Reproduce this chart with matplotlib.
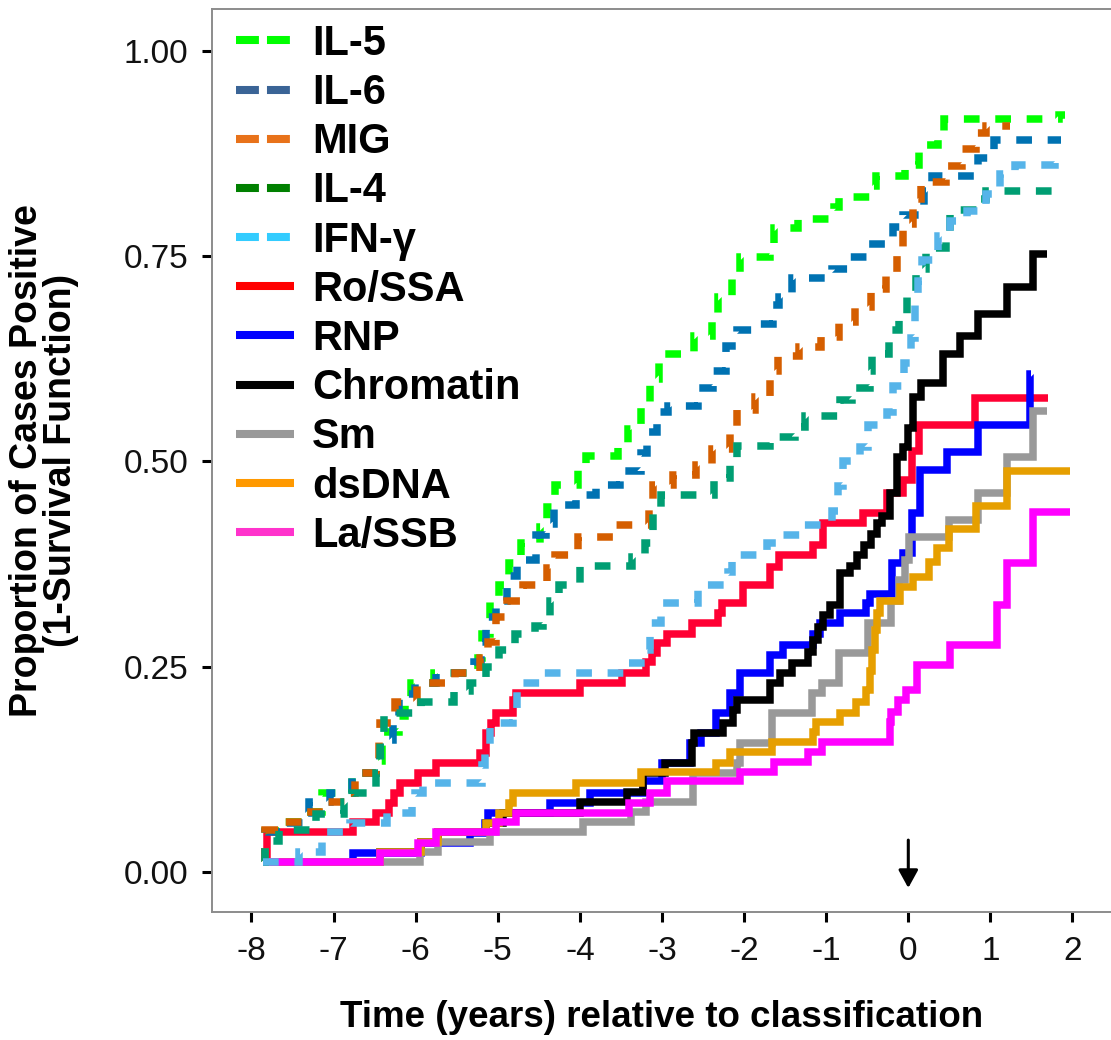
import matplotlib
matplotlib.use("Agg")
import matplotlib.pyplot as plt
from matplotlib.lines import Line2D

plt.rcParams['font.family'] = ['Liberation Sans', 'DejaVu Sans']
plt.rcParams['lines.scale_dashes'] = False

# ---------------- data (step functions: time of change, cumulative proportion) ----------------
il5_t = [-7.86, -7.83, -7.61, -7.37, -7.14, -6.77, -6.48, -6.41, -6.20, -6.13, -6.06, -5.78, -5.24, -5.19,
         -5.09, -4.99, -4.86, -4.72, -4.49, -4.40, -4.30, -4.02, -3.92, -3.53, -3.41, -3.26, -3.14, -3.04,
         -2.96, -2.61, -2.39, -2.32, -2.15, -2.05, -1.69, -1.63, -1.34, -0.90, -0.85, -0.46, -0.39, -0.04,
         0.13, 0.36, 0.43, 1.84, 1.91]
il5_y = [0.012, 0.050, 0.061, 0.073, 0.096, 0.120, 0.135, 0.170, 0.190, 0.210, 0.230, 0.242, 0.260, 0.290,
         0.330, 0.350, 0.376, 0.400, 0.420, 0.445, 0.471, 0.490, 0.507, 0.520, 0.540, 0.565, 0.600, 0.620,
         0.631, 0.653, 0.675, 0.700, 0.724, 0.749, 0.765, 0.784, 0.795, 0.810, 0.822, 0.835, 0.848, 0.861,
         0.885, 0.900, 0.917, 0.922, 0.922]

il6_t = [-7.86, -7.84, -7.63, -7.37, -7.30, -7.04, -6.78, -6.48, -6.43, -6.28, -6.20, -6.01, -5.75, -5.29,
         -5.21, -5.14, -5.02, -4.89, -4.76, -4.54, -4.41, -4.31, -4.05, -3.80, -3.51, -3.26, -3.18, -3.06,
         -2.93, -2.56, -2.38, -2.22, -2.09, -1.82, -1.65, -1.57, -1.42, -0.93, -0.73, -0.49, -0.19, -0.07,
         0.19, 0.29, 0.85, 1.05, 1.86]
il6_y = [0.012, 0.049, 0.060, 0.072, 0.085, 0.096, 0.120, 0.135, 0.160, 0.180, 0.217, 0.230, 0.242, 0.255,
         0.280, 0.310, 0.330, 0.360, 0.380, 0.410, 0.424, 0.447, 0.459, 0.471, 0.488, 0.510, 0.536, 0.560,
         0.568, 0.590, 0.610, 0.640, 0.660, 0.667, 0.690, 0.700, 0.723, 0.735, 0.749, 0.765, 0.785, 0.800,
         0.830, 0.848, 0.870, 0.891, 0.891]

mig_t = [-7.86, -7.84, -7.61, -7.34, -7.07, -6.80, -6.74, -6.48, -6.45, -6.43, -6.25, -5.98, -5.52, -5.22,
         -5.12, -5.02, -4.89, -4.69, -4.40, -4.30, -4.02, -3.57, -3.16, -3.11, -2.86, -2.59, -2.39, -2.17,
         -2.09, -1.87, -1.69, -1.59, -1.33, -1.06, -0.85, -0.65, -0.45, -0.27, -0.14, -0.07, 0.06, 0.16,
         0.46, 0.65, 0.82, 0.95, 1.24]
mig_y = [0.012, 0.051, 0.061, 0.073, 0.085, 0.096, 0.120, 0.135, 0.160, 0.181, 0.207, 0.230, 0.242, 0.260,
         0.280, 0.310, 0.330, 0.349, 0.370, 0.386, 0.408, 0.422, 0.445, 0.471, 0.483, 0.495, 0.515, 0.540,
         0.563, 0.578, 0.610, 0.628, 0.639, 0.651, 0.670, 0.688, 0.710, 0.730, 0.760, 0.789, 0.820, 0.840,
         0.860, 0.880, 0.900, 0.909, 0.909]

il4_t = [-7.86, -7.83, -7.66, -7.22, -6.87, -6.78, -6.48, -6.43, -6.38, -5.93, -5.53, -5.34, -5.14, -4.99,
         -4.79, -4.55, -4.45, -4.37, -4.25, -4.00, -3.36, -3.21, -3.11, -3.01, -2.37, -2.17, -2.09, -1.69,
         -1.38, -1.26, -0.83, -0.68, -0.47, -0.44, -0.24, -0.11, -0.01, 0.09, 0.21, 0.46, 0.51, 0.85, 0.95,
         1.84]
il4_y = [0.012, 0.037, 0.051, 0.070, 0.085, 0.096, 0.120, 0.160, 0.193, 0.207, 0.220, 0.230, 0.250, 0.270,
         0.290, 0.300, 0.310, 0.330, 0.350, 0.373, 0.384, 0.400, 0.440, 0.459, 0.480, 0.500, 0.519, 0.530,
         0.542, 0.555, 0.575, 0.590, 0.610, 0.631, 0.660, 0.680, 0.706, 0.734, 0.760, 0.780, 0.806, 0.820,
         0.830, 0.830]

ifng_t = [-7.86, -7.42, -7.14, -7.10, -6.80, -6.35, -6.05, -6.01, -5.91, -5.19, -5.16, -5.09, -4.82, -4.76,
          -4.49, -3.46, -3.18, -3.14, -3.01, -2.56, -2.19, -2.15, -1.72, -1.57, -1.28, -0.93, -0.86, -0.80,
          -0.59, -0.49, -0.26, -0.19, -0.05, 0.03, 0.08, 0.12, 0.17, 0.36, 0.51, 0.71, 0.95, 1.12, 1.30,
          1.79, 1.91]
ifng_y = [0.012, 0.024, 0.036, 0.048, 0.060, 0.072, 0.084, 0.096, 0.108, 0.130, 0.150, 0.181, 0.200, 0.230,
          0.242, 0.254, 0.270, 0.303, 0.327, 0.350, 0.365, 0.386, 0.400, 0.410, 0.422, 0.440, 0.470, 0.500,
          0.517, 0.544, 0.560, 0.592, 0.620, 0.650, 0.690, 0.720, 0.745, 0.775, 0.793, 0.805, 0.826, 0.850,
          0.861, 0.866, 0.866]

ro_t = [-7.86, -7.81, -6.76, -6.48, -6.33, -6.27, -6.19, -5.97, -5.75, -5.22, -5.14, -5.08, -5.02, -4.81,
        -4.78, -4.00, -3.49, -3.19, -3.12, -3.06, -2.94, -2.63, -2.32, -2.27, -2.01, -1.68, -1.58, -1.16,
        -1.04, -0.55, -0.26, -0.06, 0.05, 0.13, 0.81, 1.70]
ro_y = [0.012, 0.049, 0.061, 0.072, 0.084, 0.096, 0.108, 0.120, 0.133, 0.145, 0.169, 0.181, 0.193, 0.209,
        0.218, 0.230, 0.242, 0.256, 0.266, 0.279, 0.290, 0.303, 0.315, 0.327, 0.349, 0.371, 0.386, 0.398,
        0.425, 0.437, 0.461, 0.477, 0.513, 0.544, 0.577, 0.577]

rnp_t = [-7.86, -6.76, -5.93, -5.34, -5.16, -5.12, -4.37, -3.88, -3.23, -3.00, -2.66, -2.53, -2.34, -2.17,
         -2.05, -1.68, -1.53, -1.16, -1.08, -0.83, -0.51, -0.47, -0.20, -0.06, 0.04, 0.14, 0.47, 0.85, 1.48,
         1.50]
rnp_y = [0.012, 0.023, 0.035, 0.047, 0.060, 0.072, 0.084, 0.096, 0.110, 0.133, 0.157, 0.169, 0.193, 0.218,
         0.242, 0.264, 0.276, 0.290, 0.303, 0.315, 0.327, 0.339, 0.376, 0.388, 0.437, 0.490, 0.511, 0.544,
         0.607, 0.607]

chrom_t = [-7.86, -6.43, -5.93, -5.73, -5.14, -4.94, -4.00, -3.43, -3.23, -2.96, -2.64, -2.61, -2.26, -2.14,
           -2.09, -1.68, -1.56, -1.42, -1.22, -1.16, -1.10, -1.04, -0.95, -0.83, -0.71, -0.62, -0.54, -0.46,
           -0.38, -0.32, -0.22, -0.14, -0.07, 0.00, 0.06, 0.15, 0.42, 0.63, 0.85, 1.20, 1.52, 1.69]
chrom_y = [0.012, 0.024, 0.036, 0.048, 0.060, 0.072, 0.085, 0.097, 0.120, 0.133, 0.157, 0.169, 0.181, 0.197,
           0.209, 0.230, 0.242, 0.254, 0.268, 0.282, 0.298, 0.313, 0.325, 0.364, 0.373, 0.386, 0.398, 0.412,
           0.425, 0.434, 0.462, 0.505, 0.517, 0.541, 0.578, 0.596, 0.631, 0.653, 0.680, 0.712, 0.753, 0.753]

sm_t = [-7.86, -5.95, -5.73, -5.10, -3.96, -3.38, -3.19, -2.62, -2.09, -2.05, -1.66, -1.17, -1.05, -0.85,
        -0.49, -0.21, -0.11, -0.04, 0.01, 0.49, 0.85, 1.20, 1.52, 1.69]
sm_y = [0.012, 0.024, 0.036, 0.049, 0.061, 0.073, 0.085, 0.120, 0.133, 0.157, 0.193, 0.218, 0.230, 0.266,
        0.303, 0.330, 0.355, 0.380, 0.408, 0.428, 0.461, 0.505, 0.561, 0.561]

dsdna_t = [-7.86, -6.43, -5.93, -5.73, -5.14, -4.99, -4.86, -4.82, -4.05, -3.25, -2.34, -2.17, -1.66, -1.16,
           -1.12, -0.83, -0.64, -0.51, -0.47, -0.44, -0.41, -0.38, -0.35, -0.10, 0.06, 0.25, 0.35, 0.49, 0.83,
           1.20, 1.97]
dsdna_y = [0.012, 0.024, 0.036, 0.048, 0.060, 0.072, 0.084, 0.096, 0.108, 0.122, 0.133, 0.146, 0.158, 0.170,
           0.182, 0.193, 0.207, 0.221, 0.245, 0.270, 0.295, 0.315, 0.330, 0.347, 0.359, 0.377, 0.395, 0.418,
           0.446, 0.488, 0.488]

la_t = [-7.86, -6.43, -5.97, -5.75, -5.02, -4.78, -3.40, -3.15, -2.94, -2.05, -1.64, -1.22, -1.05, -0.22,
        -0.21, -0.13, -0.03, 0.11, 0.51, 1.08, 1.20, 1.52, 1.97]
la_y = [0.012, 0.023, 0.035, 0.049, 0.061, 0.072, 0.084, 0.096, 0.110, 0.122, 0.134, 0.146, 0.158, 0.183,
        0.195, 0.209, 0.221, 0.252, 0.276, 0.325, 0.376, 0.438, 0.438]

labels = ["IL-5", "IL-6", "MIG", "IL-4", "IFN-γ", "Ro/SSA", "RNP", "Chromatin", "Sm", "dsDNA", "La/SSB"]
x_ticks = [-8, -7, -6, -5, -4, -3, -2, -1, 0, 1, 2]
y_ticks = [0.00, 0.25, 0.50, 0.75, 1.00]
y_ticklabels = ["0.00", "0.25", "0.50", "0.75", "1.00"]

# ---------------- styling ----------------
line_colors = {"IL-5": "#00FF00", "IL-6": "#0072B2", "MIG": "#D55E00", "IL-4": "#009E73",
               "IFN-γ": "#56B4E9", "Ro/SSA": "#FF0033", "RNP": "#0000FF", "Chromatin": "#000000",
               "Sm": "#999999", "dsDNA": "#E69F00", "La/SSB": "#FF00FF"}
legend_colors = {"IL-5": "#00FF00", "IL-6": "#3A6496", "MIG": "#E8721A", "IL-4": "#008000",
                 "IFN-γ": "#33CCFF", "Ro/SSA": "#FF0000", "RNP": "#0000FF", "Chromatin": "#000000",
                 "Sm": "#999999", "dsDNA": "#FF9900", "La/SSB": "#FF33CC"}
dashed = {"IL-5", "IL-6", "MIG", "IL-4", "IFN-γ"}

series = {"IL-5": (il5_t, il5_y), "IL-6": (il6_t, il6_y), "MIG": (mig_t, mig_y), "IL-4": (il4_t, il4_y),
          "IFN-γ": (ifng_t, ifng_y), "Ro/SSA": (ro_t, ro_y), "RNP": (rnp_t, rnp_y),
          "Chromatin": (chrom_t, chrom_y), "Sm": (sm_t, sm_y), "dsDNA": (dsdna_t, dsdna_y),
          "La/SSB": (la_t, la_y)}

W, H = 1111, 1040
fig = plt.figure(figsize=(W / 100, H / 100), dpi=100)
ax_left, ax_right, ax_top, ax_bottom = 212, 1111, 9.3, 912
ax = fig.add_axes([ax_left / W, 1 - ax_bottom / H, (ax_right - ax_left) / W, (ax_bottom - ax_top) / H])

LW = 5.4
draw_order = ["Ro/SSA", "RNP", "Chromatin", "Sm", "dsDNA", "La/SSB", "IL-5", "IL-6", "MIG", "IL-4", "IFN-γ"]
for name in draw_order:
    t, y = series[name]
    if name in dashed:
        ax.step(t, y, where="post", color=line_colors[name], lw=LW, dashes=(11.3, 11.3),
                dash_capstyle="butt", dash_joinstyle="miter")
    else:
        ax.step(t, y, where="post", color=line_colors[name], lw=LW,
                solid_capstyle="butt", solid_joinstyle="miter")

# arrow marking classification time
ax.annotate("", xy=(0, -0.0197), xytext=(0, 0.0386),
            arrowprops=dict(arrowstyle="-|>,head_length=0.4,head_width=0.22", color="black",
                            lw=2.2, mutation_scale=27, shrinkA=0, shrinkB=0))

ax.set_xlim(-8.481, 2.469)
ax.set_ylim(-0.049, 1.0508)
ax.set_xticks(x_ticks)
ax.set_xticklabels([str(v) for v in x_ticks])
ax.set_yticks(y_ticks)
ax.set_yticklabels(y_ticklabels)

for side in ["left", "top", "bottom"]:
    ax.spines[side].set_color("#8c8c8c")
    ax.spines[side].set_linewidth(1.4)
ax.spines["right"].set_visible(False)
ax.tick_params(axis="both", direction="out", length=7, width=2.2, color="black",
               labelsize=24, labelcolor="#111111")
ax.tick_params(axis="x", pad=10.5)
ax.tick_params(axis="y", pad=10)

# legend
handles = []
for name in labels:
    if name in dashed:
        h = Line2D([0], [0], color=legend_colors[name], lw=5.8, dashes=(16.5, 5.8), dash_capstyle="butt")
    else:
        h = Line2D([0], [0], color=legend_colors[name], lw=5.8, solid_capstyle="butt")
    handles.append(h)
leg = ax.legend(handles, labels, loc="upper left", bbox_to_anchor=((236 - ax_left) / (ax_right - ax_left),
                (ax_bottom - 24) / (ax_bottom - ax_top)),
                frameon=False, borderpad=0, borderaxespad=0, handlelength=1.39, handletextpad=0.43,
                labelspacing=0.22, prop={"size": 30, "weight": "bold"})

# axis titles
fig.text(44 / W, 1 - ((ax_top + ax_bottom) / 2) / H,
         "Proportion of Cases Positive\n(1-Survival Function)", rotation=90, ha="center", va="center",
         fontsize=27, fontweight="bold", linespacing=0.9, multialignment="center")
fig.text(((ax_left + ax_right) / 2) / W, 1 - 1027 / H, "Time (years) relative to classification",
         ha="center", va="baseline", fontsize=26.5, fontweight="bold")

fig.savefig("out.png", dpi=100)
